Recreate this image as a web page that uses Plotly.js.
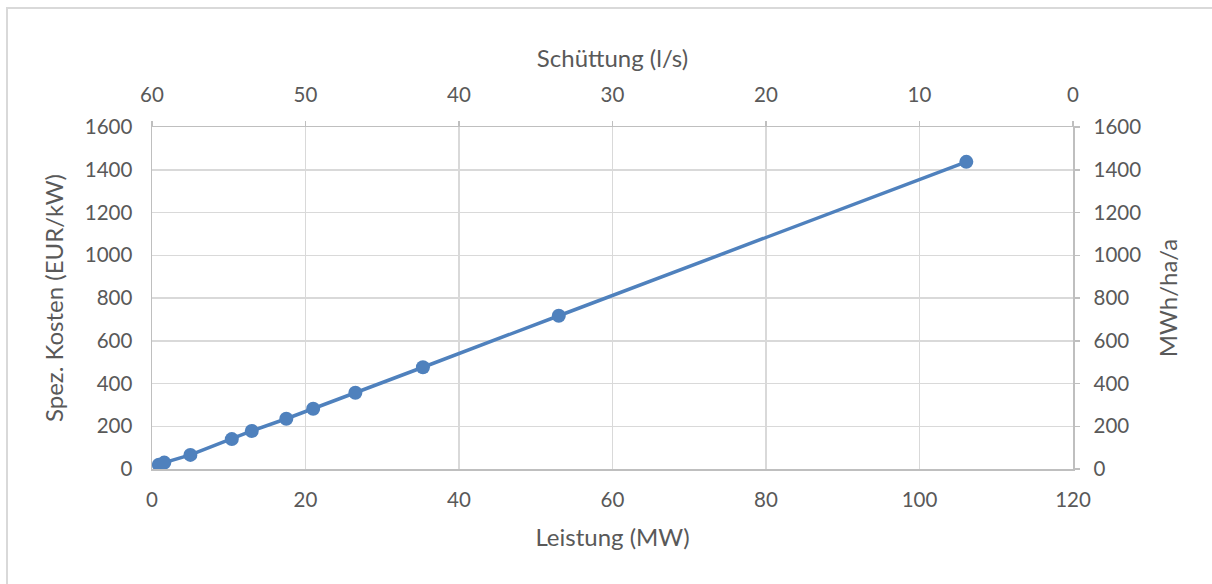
<!DOCTYPE html>
<html>
<head>
<meta charset="utf-8">
<script src="https://cdn.plot.ly/plotly-3.0.1.min.js"></script>
<style>
  html, body { margin: 0; padding: 0; background: #fff; }
  #wrap { position: relative; width: 1212px; height: 584px; overflow: hidden; }
  #chart { position: absolute; left: 0; top: 0; width: 1212px; height: 584px; }
  #frame { position: absolute; left: 6px; top: 7px; width: 1300px; height: 700px;
           border-left: 2px solid #d9d9d9; border-top: 2px solid #d9d9d9; pointer-events: none; }
</style>
</head>
<body>
<div id="wrap">
  <div id="chart"></div>
  <div id="frame"></div>
</div>
<script>
// Leistung (MW) against specific cost (EUR/kW)
const leistungMW = [0.9, 1.6, 5.0, 10.4, 13.0, 17.5, 21.0, 26.5, 35.3, 53.0, 106.1];
const spezKosten = [20, 30, 66, 140, 178, 235, 282, 357, 476, 717, 1437];

// axis ranges
const leistungRange = [0, 120];
const schuettungRange = [60, 0];
const kostenRange = [0, 1600];

const grey = '#595959';
const axisLine = '#bfbfbf';
const gridLine = '#d9d9d9';
const fontFam = 'Lato, "Open Sans", sans-serif';
const tickSize = 20.5;
const titleSize = 24;

const traces = [{
  type: 'scatter',
  mode: 'lines+markers',
  x: leistungMW,
  y: spezKosten,
  xaxis: 'x',
  yaxis: 'y',
  line: { color: '#4f81bd', width: 3.5 },
  marker: { color: '#4f81bd', size: 14 },
  showlegend: false,
  hoverinfo: 'x+y'
}, {
  // empty series that brings up the secondary (top / right) axes
  type: 'scatter',
  mode: 'markers',
  x: [],
  y: [],
  xaxis: 'x2',
  yaxis: 'y2',
  showlegend: false,
  hoverinfo: 'skip'
}];

const layout = {
  width: 1212,
  height: 584,
  margin: { l: 152, r: 139, t: 127, b: 115 },
  paper_bgcolor: 'rgba(0,0,0,0)',
  plot_bgcolor: '#fff',
  font: { family: fontFam, color: grey, size: tickSize },
  showlegend: false,
  xaxis: {
    range: leistungRange, dtick: 20, tick0: 0,
    showline: true, linecolor: axisLine, linewidth: 1.5,
    showgrid: true, gridcolor: gridLine, gridwidth: 1.5,
    zeroline: false, ticks: '', ticklabelstandoff: 12,
    tickfont: { size: tickSize, color: grey },
    title: { text: 'Leistung (MW)', font: { size: titleSize, color: grey }, standoff: 19 }
  },
  xaxis2: {
    overlaying: 'x', side: 'top', anchor: 'y2',
    range: schuettungRange, dtick: 10, tick0: 0,
    showline: true, linecolor: axisLine, linewidth: 1.5,
    showgrid: false, zeroline: false,
    ticks: 'outside', ticklen: 5, tickcolor: axisLine, tickwidth: 1.5,
    ticklabelstandoff: 10,
    tickfont: { size: tickSize, color: grey },
    title: { text: 'Schüttung (l/s)', font: { size: titleSize, color: grey }, standoff: 8 }
  },
  yaxis: {
    range: kostenRange, dtick: 200, tick0: 0,
    showline: true, linecolor: axisLine, linewidth: 1.5,
    showgrid: true, gridcolor: gridLine, gridwidth: 1.5,
    zeroline: false, ticks: '', ticklabelstandoff: 14,
    tickfont: { size: tickSize, color: grey },
    title: { text: 'Spez. Kosten (EUR/kW)', font: { size: titleSize, color: grey }, standoff: 14 }
  },
  yaxis2: {
    overlaying: 'y', side: 'right', anchor: 'x2',
    range: kostenRange, dtick: 200, tick0: 0,
    showline: true, linecolor: axisLine, linewidth: 1.5,
    showgrid: false, zeroline: false,
    ticks: 'outside', ticklen: 5, tickcolor: axisLine, tickwidth: 1.5,
    ticklabelstandoff: 10,
    tickfont: { size: tickSize, color: grey },
    title: { text: 'MWh/ha/a', font: { size: titleSize, color: grey }, standoff: 20 }
  }
};

Plotly.newPlot('chart', traces, layout, { displayModeBar: false, staticPlot: true });
</script>
</body>
</html>
